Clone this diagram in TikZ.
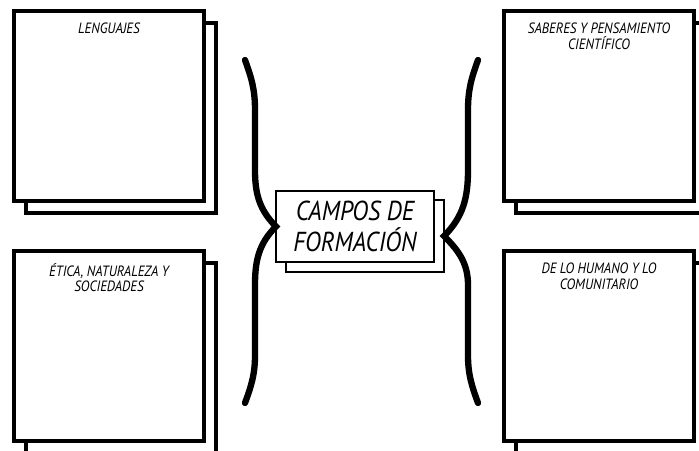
\documentclass[tikz,border=0pt]{standalone}
\usepackage{fontspec}
\setmainfont{PT Sans}[FakeStretch=0.88]
\usetikzlibrary{positioning}
\tikzset{card/.style={draw, fill=white, line width=2.4pt, minimum width=4.75cm, minimum height=4.75cm, inner sep=0pt, outer sep=0pt},
    corecard/.style={card, line width=1.5pt, minimum width=3.95cm, minimum height=1.78cm},
    title/.style={font=\itshape\fontsize{10.6}{11}\selectfont, align=center, inner sep=0pt},
    brace/.style={line width=4.5pt, line cap=round}}

\begin{document}
\begin{tikzpicture}[x=0.025cm, y=0.025cm]
    \useasboundingbox (0,0) rectangle (699,450);
    
    \foreach \name/\x/\y/\txt in {lang/109/344/{LENGUAJES}, sab/599/344/{SABERES Y PENSAMIENTO\\CIENTÍFICO}, etica/109/104/{ÉTICA, NATURALEZA Y\\SOCIEDADES}, hum/599/104/{DE LO HUMANO Y LO\\COMUNITARIO}} {
        \node [card] (\name back) at (\x+12, \y-12) {};
        \node [card] (\name) at (\x, \y) {};
        \node [title, below=0.3cm of \name.north] (\name title) {\txt};
    }
    
    \node [corecard] (coreback) at (365, 214) {};
    \node [corecard, font=\itshape\fontsize{19.5}{22}\selectfont, align=center] (core) at (355, 223.5) {CAMPOS DE\\FORMACIÓN};
    
    \coordinate (lt) at (245, 390);
    \coordinate (lb) at (245, 47);
    \coordinate (rt) at (478, 390);
    \coordinate (rb) at (478, 47);
    
    \draw [brace] (lt) to [out=-70,in=90] (255, 340) -- (255, 280) to [out=-90,in=135] (core.west)
        to [out=225,in=90] (255, 165) -- (255, 95) to [out=-90,in=70] (lb);
    \draw [brace] (rt) to [out=-110,in=90] (468, 340) -- (468, 280) to [out=-90,in=45] (coreback.east)
        to [out=-45,in=90] (468, 165) -- (468, 95) to [out=-90,in=110] (rb);
    
\end{tikzpicture}
\end{document}
